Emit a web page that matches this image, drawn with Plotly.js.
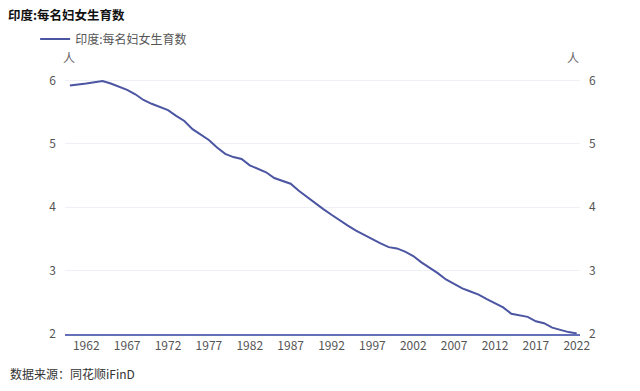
<!DOCTYPE html>
<html>
<head>
<meta charset="utf-8">
<script src="https://cdn.plot.ly/plotly-3.0.1.min.js"></script>
<style>html,body{margin:0;padding:0;background:#fff;}#chart{width:640px;height:391px;}</style>
</head>
<body>
<div id="chart"></div>
<script>
const years = [1960,1961,1962,1963,1964,1965,1966,1967,1968,1969,
  1970,1971,1972,1973,1974,1975,1976,1977,1978,1979,
  1980,1981,1982,1983,1984,1985,1986,1987,1988,1989,
  1990,1991,1992,1993,1994,1995,1996,1997,1998,1999,
  2000,2001,2002,2003,2004,2005,2006,2007,2008,2009,
  2010,2011,2012,2013,2014,2015,2016,2017,2018,2019,
  2020,2021,2022];
const fertility = [5.92,5.93,5.95,5.97,5.99,5.95,5.90,5.85,5.78,5.69,
  5.63,5.58,5.53,5.44,5.36,5.23,5.14,5.06,4.94,4.84,
  4.79,4.76,4.66,4.60,4.55,4.46,4.41,4.37,4.26,4.16,
  4.07,3.97,3.88,3.79,3.71,3.63,3.56,3.50,3.43,3.37,
  3.35,3.30,3.23,3.13,3.05,2.96,2.86,2.79,2.72,2.67,
  2.62,2.55,2.49,2.42,2.32,2.30,2.27,2.20,2.17,2.10,
  2.06,2.03,2.01];
const seriesName = '印度:每名妇女生育数';
const chartTitle = '印度:每名妇女生育数';
const unitLabel = '人';
const sourceText = '数据来源：同花顺iFinD';
const yTicks = [2,3,4,5,6];

const FONT = '"Noto Sans CJK SC", "Noto Sans", sans-serif';
const lineColor = '#4b55a2';

const traces = [
  {x: years, y: fertility, type: 'scatter', mode: 'lines', name: seriesName,
   line: {color: lineColor, width: 2}, yaxis: 'y'},
  {x: years, y: fertility, type: 'scatter', mode: 'lines', name: seriesName,
   line: {color: lineColor, width: 0}, opacity: 0, showlegend: false, hoverinfo: 'skip', yaxis: 'y2'}
];

const layout = {
  width: 640, height: 391,
  margin: {l: 65, r: 60, t: 74, b: 57},
  paper_bgcolor: '#fff', plot_bgcolor: '#fff',
  font: {family: FONT, size: 12, color: '#555'},
  title: {text: chartTitle, x: 8/640, xref: 'container', xanchor: 'left',
          y: 1 - 16/391, yref: 'container', yanchor: 'middle',
          font: {family: FONT, size: 12.5, color: '#111', weight: 'bold'}},
  showlegend: true,
  legend: {orientation: 'h', x: -0.058, xanchor: 'left', y: 1.19, yanchor: 'top',
           font: {family: FONT, size: 12, color: '#555'}, bgcolor: 'rgba(0,0,0,0)'},
  xaxis: {range: [1959.4, 2022.4], tickmode: 'linear', tick0: 1962, dtick: 5,
          showgrid: false, zeroline: false, showline: true, linecolor: '#6370b8', linewidth: 1.5,
          ticks: '', tickfont: {family: FONT, size: 12, color: '#555'}},
  yaxis: {range: [2, 6.1], tickvals: yTicks, showgrid: true, gridcolor: '#eef0f5', gridwidth: 1,
          zeroline: false, showline: false, ticks: '', ticklabelstandoff: 8,
          tickfont: {family: FONT, size: 12, color: '#555'}},
  yaxis2: {range: [2, 6.1], tickvals: yTicks, overlaying: 'y', side: 'right', showgrid: false,
          zeroline: false, showline: false, ticks: '', ticklabelstandoff: 8,
          tickfont: {family: FONT, size: 12, color: '#555'}},
  annotations: [
    {text: unitLabel, xref: 'paper', yref: 'paper', x: 0.008, y: 1.062, xanchor: 'center', yanchor: 'middle',
     showarrow: false, font: {family: FONT, size: 12, color: '#666'}},
    {text: unitLabel, xref: 'paper', yref: 'paper', x: 0.986, y: 1.062, xanchor: 'center', yanchor: 'middle',
     showarrow: false, font: {family: FONT, size: 12, color: '#666'}},
    {text: sourceText, xref: 'paper', yref: 'paper', x: (8-65)/515, y: (334-373)/260,
     xanchor: 'left', yanchor: 'middle', showarrow: false, font: {family: FONT, size: 12, color: '#333'}}
  ]
};

Plotly.newPlot('chart', traces, layout, {displayModeBar: false, staticPlot: true});
</script>
</body>
</html>
